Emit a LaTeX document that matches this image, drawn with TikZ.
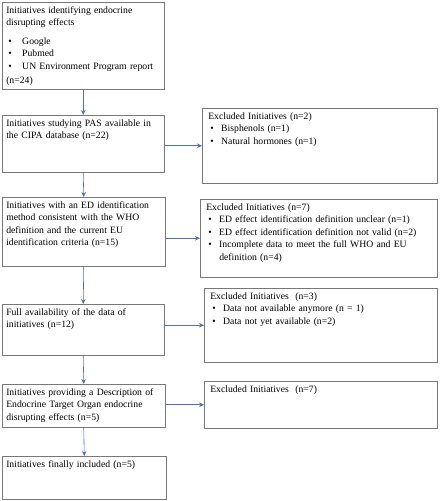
\documentclass[tikz,border=0pt]{standalone}
\usepackage{fontspec}
\setmainfont{Liberation Serif}
\usepackage{tikz}
\usetikzlibrary{arrows.meta}
\definecolor{boxgray}{RGB}{120,120,120}
\definecolor{flowblue}{RGB}{79,114,180}
% bullet line inside a box
\newcommand{\bitem}[2][11pt]{\hspace*{2pt}\makebox[#1][l]{\textbullet}#2}
\tikzset{
  stage/.style={draw=boxgray, line width=0.5pt, anchor=north west, align=left,
    inner xsep=4pt, inner ysep=4pt, text height=7pt,
    font=\fontsize{9.7}{12.5}\selectfont},
  flow/.style={draw=flowblue, line width=0.6pt, -{Stealth[length=5pt,width=4.5pt]}}
}

\begin{document}
\begin{tikzpicture}[x=1pt,y=-1pt]
  \useasboundingbox (0,0) rectangle (440,501);

  % Main stages
  \node[stage, text width=154pt, text depth=72pt] (b1) at (2,2)
    {Initiatives identifying endocrine\\ disrupting effects\\[6pt]
     \bitem[14pt]{Google}\\ \bitem[14pt]{Pubmed}\\
     \bitem[14pt]{UN Environment Program report}\\[2pt] (n=24)};
  \node[stage, text width=154pt, text depth=42pt] (b2) at (2,115)
    {Initiatives studying PAS available in\\ the CIPA database (n=22)};
  \node[stage, text width=155pt, text depth=54pt] (b3) at (2,197)
    {Initiatives with an ED identification\\ method consistent with the WHO\\
     definition and the current EU\\ identification criteria (n=15)};
  \node[stage, text width=154pt, text depth=36pt] (b4) at (2,304)
    {Full availability of the data of\\ initiatives (n=12)};
  \node[stage, text width=155pt, text depth=28pt] (b5) at (2,384)
    {Initiatives providing a Description of\\ Endocrine Target Organ endocrine\\
     disrupting effects (n=5)};
  \node[stage, text width=156pt, text depth=28pt] (b6) at (2,456)
    {Initiatives finally included (n=5)};

  % Excluded initiatives
  \node[stage, inner xsep=6pt, text width=223pt, text depth=60pt] (x2) at (202,108)
    {Excluded Initiatives (n=2)\\ \bitem{Bisphenols (n=1)}\\
     \bitem{Natural hormones (n=1)}};
  \node[stage, inner xsep=6pt, text width=225pt, text depth=63pt] (x3) at (200,199)
    {Excluded Initiatives (n=7)\\
     \bitem{ED effect identification definition unclear (n=1)}\\
     \bitem{ED effect identification definition not valid (n=2)}\\
     \bitem{\parbox[t]{200pt}{Incomplete data to meet the full WHO and EU\\ definition (n=4)}}};
  \node[stage, inner xsep=6pt, text width=221pt, text depth=59pt] (x4) at (204,288)
    {Excluded Initiatives~~(n=3)\\ \bitem{Data not available anymore (n = 1)}\\
     \bitem{Data not yet available (n=2)}};
  \node[stage, inner xsep=6pt, text width=221pt, text depth=32pt] (x5) at (204,381)
    {Excluded Initiatives~~(n=7)};

  % Connectors
  \foreach \a/\b in {b1/b2, b2/b3, b3/b4, b4/b5, b5/b6}
    \draw[flow] (\a.south) -- (\b.north);
  \foreach \a/\b in {b2/x2, b3/x3, b4/x4, b5/x5}
    \draw[flow] (\a.east |- \b.west) -- (\b.west);
\end{tikzpicture}
\end{document}
